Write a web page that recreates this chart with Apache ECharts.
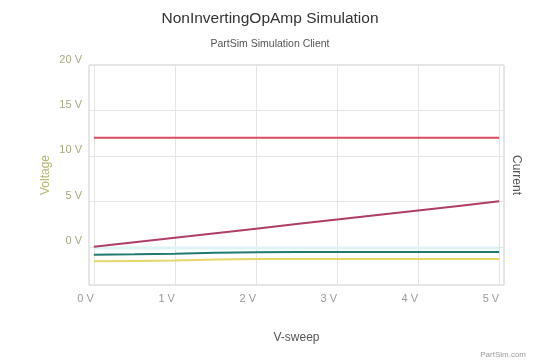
<!DOCTYPE html>
<html>
<head>
<meta charset="utf-8">
<script src="https://cdn.jsdelivr.net/npm/echarts@6/dist/echarts.min.js"></script>
<style>html,body{margin:0;padding:0;background:#fff}#c{width:540px;height:360px}</style>
</head>
<body>
<div id="c"></div>
<script>
const sweep = [0, 0.5, 1, 1.5, 2, 2.5, 3, 3.5, 4, 4.5, 5];
const vSupply = [12, 12, 12, 12, 12, 12, 12, 12, 12, 12, 12];
const vIn = [0, 0.5, 1, 1.5, 2, 2.5, 3, 3.5, 4, 4.5, 5];
const vOut = [-0.88, -0.82, -0.75, -0.66, -0.6, -0.58, -0.58, -0.58, -0.58, -0.58, -0.58];
const vNeg = [-1.6, -1.55, -1.5, -1.4, -1.33, -1.33, -1.33, -1.33, -1.33, -1.33, -1.33];
const iSupply = [-0.12, -0.12, -0.12, -0.12, -0.12, -0.12, -0.12, -0.12, -0.12, -0.12, -0.12];
const xTicks = [0, 1, 2, 3, 4, 5];
const yTicks = [0, 5, 10, 15, 20];

const pair = arr => sweep.map((x, i) => [x, arr[i]]);
const font = 'Liberation Sans, Arial, sans-serif';
const chart = echarts.init(document.getElementById('c'));
chart.setOption({
  animation: false,
  backgroundColor: '#fff',
  title: [
    {text: 'NonInvertingOpAmp Simulation', left: 'center', top: 6,
     textStyle: {fontFamily: font, fontSize: 15.5, fontWeight: 'normal', color: '#333'}},
    {text: 'PartSim Simulation Client', left: 'center', top: 34,
     textStyle: {fontFamily: font, fontSize: 10.5, fontWeight: 'normal', color: '#555'}},
    {text: 'PartSim.com', right: 9, top: 346,
     textStyle: {fontFamily: font, fontSize: 8, fontWeight: 'normal', color: '#999'}}
  ],
  grid: {left: 89, right: 36, top: 65, bottom: 75, show: true, borderColor: '#ccc', borderWidth: 1},
  xAxis: {
    type: 'value', min: -0.06, max: 5.06,
    name: 'V-sweep', nameLocation: 'middle', nameGap: 47,
    nameTextStyle: {fontFamily: font, fontSize: 12, color: '#555'},
    axisLine: {show: false},
    axisTick: {show: true, length: 5, customValues: xTicks, lineStyle: {color: '#ddd'}},
    axisLabel: {customValues: xTicks, formatter: v => v + ' V', align: 'right', margin: 8,
      fontFamily: font, fontSize: 11, color: '#999'},
    splitLine: {show: true, lineStyle: {color: '#e4e4e4'}}
  },
  yAxis: [{
    type: 'value', min: -4.2, max: 20,
    name: 'Voltage', nameLocation: 'middle', nameGap: 37, nameMoveOverlap: false,
    nameTextStyle: {fontFamily: font, fontSize: 12, color: '#b4b46e'},
    axisLine: {show: false},
    axisTick: {show: false, customValues: yTicks},
    axisLabel: {customValues: yTicks, formatter: v => v + ' V', verticalAlign: 'bottom', margin: 7,
      fontFamily: font, fontSize: 11, color: '#a8a882'},
    splitLine: {show: true, lineStyle: {color: '#e4e4e4'}}
  }, {
    type: 'value', min: -4.2, max: 20, position: 'right',
    name: 'Current', nameLocation: 'middle', nameGap: 6, nameRotate: -90,
    nameTextStyle: {fontFamily: font, fontSize: 12, color: '#555'},
    axisLine: {show: false}, axisTick: {show: false}, axisLabel: {show: false}, splitLine: {show: false}
  }],
  series: [
    {type: 'line', data: pair(iSupply), yAxisIndex: 1, symbol: 'none', lineStyle: {width: 3, color: '#def4f4'}},
    {type: 'line', data: pair(vNeg), symbol: 'none', lineStyle: {width: 2, color: '#e6d66a'}},
    {type: 'line', data: pair(vOut), symbol: 'none', lineStyle: {width: 2, color: '#1f7a72'}},
    {type: 'line', data: pair(vIn), symbol: 'none', lineStyle: {width: 2, color: '#b03d68'}},
    {type: 'line', data: pair(vSupply), symbol: 'none', lineStyle: {width: 2, color: '#e04a60'}}
  ]
});
</script>
</body>
</html>
